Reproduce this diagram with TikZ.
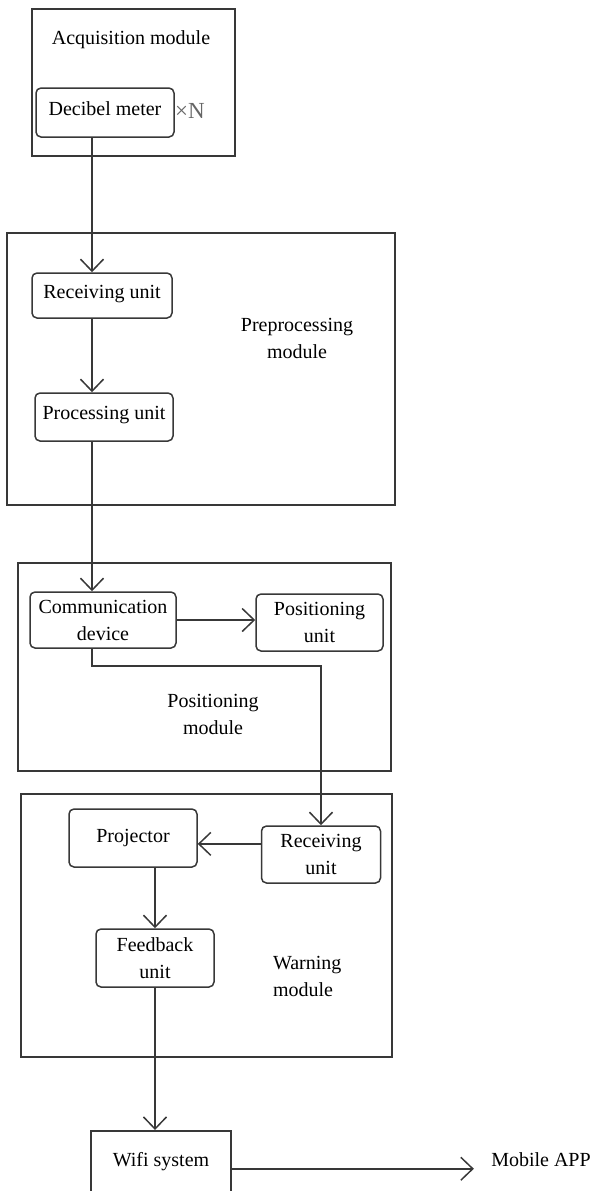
\documentclass[tikz,border=0pt]{standalone}
\usepackage{fontspec}
\setmainfont{Liberation Serif}
\usetikzlibrary{arrows.meta}

\begin{document}
\begin{tikzpicture}[x=0.5pt,y=-0.5pt,
  frame/.style={draw=black!78,line width=0.75pt},
  wire/.style={draw=black!78,line width=0.75pt,-{Straight Barb[length=6pt,width=11.5pt]}},
  txt/.style={align=center,font=\fontsize{10}{13.5}\selectfont},
  unit/.style={txt,draw=black!78,line width=0.75pt,rounded corners=2.5pt,inner sep=0pt}]
\useasboundingbox (0,0) rectangle (594,1191);
% module frames
\draw[frame] (32,9) rectangle (235,156);
\draw[frame] (7,233) rectangle (395,505);
\draw[frame] (18,563) rectangle (391,771);
\draw[frame] (21,794) rectangle (392,1057);
% acquisition module
\node[txt] (acqlbl) at (131,40) {Acquisition module};
\node[unit,minimum width=69pt,minimum height=24.5pt,text depth=4pt] (dbm) at (105,112.5) {Decibel meter};
\node[txt,text=black!60,font=\fontsize{11.5}{13.5}\selectfont] (xn) at (190,111) {×N};
% preprocessing module
\node[unit,minimum width=70pt,minimum height=22.5pt,text depth=4pt] (rx1) at (102,295.5) {Receiving unit};
\node[unit,minimum width=69pt,minimum height=24pt,text depth=4pt] (proc) at (104,417) {Processing unit};
\node[txt] (prelbl) at (297,338.5) {Preprocessing\\module};
% positioning module
\node[unit,minimum width=73pt,minimum height=28pt] (comm) at (103,620) {Communication\\device};
\node[unit,minimum width=63.5pt,minimum height=28.5pt] (posu) at (319.5,622.5) {Positioning\\unit};
\node[txt] (poslbl) at (213,714.5) {Positioning\\module};
% warning module
\node[unit,minimum width=64pt,minimum height=29pt] (proj) at (133,838) {Projector};
\node[unit,minimum width=59.5pt,minimum height=28.5pt] (rx2) at (321,854.5) {Receiving\\unit};
\node[unit,minimum width=59pt,minimum height=29pt] (fb) at (155,958) {Feedback\\unit};
\node[txt,align=left,anchor=west] (warnlbl) at (266,976.5) {Warning\\module};
% output
\node[draw=black!78,line width=0.75pt,inner sep=0pt,minimum width=70pt,text height=18pt,text depth=20pt,anchor=north,font=\fontsize{10}{13.5}\selectfont] (wifi) at (161,1130) {Wifi system};
\node[txt,inner xsep=8.5pt] (app) at (541,1160) {Mobile APP};
\coordinate (trunk) at (92,0);
% signal path
\draw[wire] (dbm.south -| trunk) -- (rx1.north -| trunk);
\draw[wire] (rx1.south -| trunk) -- (proc.north -| trunk);
\draw[wire] (proc.south -| trunk) -- (comm.north -| trunk);
\draw[wire] (comm.east) -- (comm.east -| posu.west);
\draw[wire] (comm.south -| trunk) -- ++(0,17) -| (rx2.north);
\draw[wire] (rx2.170) -- (rx2.170 -| proj.east);
\draw[wire] (proj.south -| fb.north) -- (fb.north);
\draw[wire] (fb.south) -- (wifi.north -| fb.south);
\draw[wire] (wifi.east) -- (wifi.east -| app.west);
\end{tikzpicture}
\end{document}
